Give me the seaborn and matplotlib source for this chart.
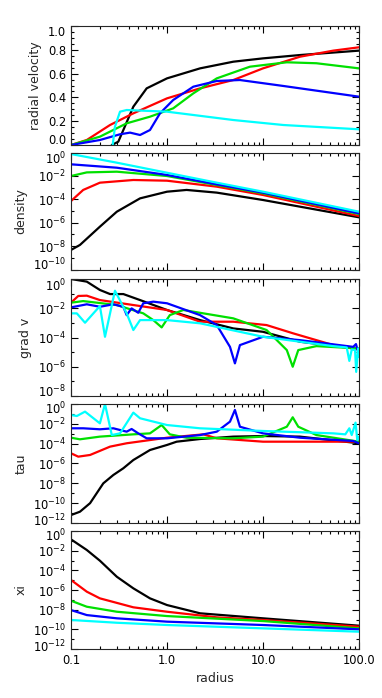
import numpy as np
import matplotlib
matplotlib.use("Agg")
import matplotlib.pyplot as plt
from matplotlib.ticker import MultipleLocator, NullFormatter
from matplotlib.transforms import ScaledTranslation
import seaborn as sns

# ---- radial velocity (linear) ----
vel_black_r = [0.266, 0.311, 0.351, 0.446, 0.614, 1.0, 2.21, 4.9, 10, 24.3, 100]
vel_black = [0.0, 0.028, 0.126, 0.322, 0.476, 0.56, 0.644, 0.70, 0.728, 0.756, 0.793]
vel_red_r = [0.1, 0.146, 0.255, 0.446, 1.0, 2.21, 4.9, 10, 24.3, 54, 100]
vel_red = [0.0, 0.042, 0.168, 0.266, 0.392, 0.476, 0.546, 0.644, 0.742, 0.793, 0.821]
vel_green_r = [0.1, 0.2, 0.38, 0.665, 1.16, 1.88, 3.3, 7.3, 17.7, 36, 100]
vel_green = [0.0, 0.07, 0.182, 0.238, 0.308, 0.434, 0.56, 0.658, 0.695, 0.687, 0.644]
vel_blue_r = [0.1, 0.2, 0.324, 0.412, 0.524, 0.665, 0.845, 1.16, 1.88, 3.3, 5.75, 16.3, 100]
vel_blue = [0.0, 0.042, 0.09, 0.104, 0.084, 0.126, 0.266, 0.378, 0.49, 0.538, 0.546, 0.496, 0.406]
vel_cyan_r = [0.1, 0.27, 0.287, 0.324, 0.38, 1.0, 4.9, 16.3, 100]
vel_cyan = [-0.02, -0.02, 0.154, 0.28, 0.294, 0.28, 0.21, 0.168, 0.132]

# ---- density (log10 values) ----
dens_black_r = [0.1, 0.124, 0.2, 0.3, 0.524, 1.0, 1.6, 3.3, 10, 100]
dens_black = [-8.33, -7.9, -6.34, -5.06, -3.92, -3.35, -3.2, -3.43, -4.06, -5.54]
dens_red_r = [0.1, 0.134, 0.2, 0.446, 1.0, 3.3, 10, 100]
dens_red = [-4.15, -3.2, -2.58, -2.35, -2.41, -2.92, -3.63, -5.43]
dens_green_r = [0.1, 0.146, 0.3, 1.0, 3.3, 10, 100]
dens_green = [-2.01, -1.70, -1.64, -2.01, -2.78, -3.49, -5.26]
dens_blue_r = [0.1, 0.3, 1.0, 3.3, 10, 100]
dens_blue = [-1.01, -1.3, -1.92, -2.72, -3.43, -5.2]
dens_cyan_r = [0.1, 0.3, 1.0, 3.3, 10, 100]
dens_cyan = [-0.13, -0.87, -1.73, -2.58, -3.35, -5.06]

# ---- grad v (log10 values) ----
grad_black_r = [0.1, 0.146, 0.2, 0.255, 0.351, 0.524, 1.0, 2.21, 4.9, 10, 24.3, 100]
grad_black = [0.0, -0.18, -0.75, -1.03, -1.03, -1.44, -2.12, -2.81, -3.38, -3.61, -4.29, -4.79]
grad_red_r = [0.1, 0.119, 0.146, 0.2, 0.446, 1.0, 2.21, 4.9, 10.9, 20.7, 54, 100]
grad_red = [-1.62, -1.16, -1.14, -1.44, -1.78, -2.12, -2.92, -2.92, -3.15, -3.72, -4.52, -4.82]
grad_green_r = [0.1, 0.134, 0.3, 0.566, 0.72, 0.88, 1.07, 1.48, 4.9, 10.9, 17.7, 20.4, 23.3, 36, 100]
grad_green = [-1.62, -1.51, -1.78, -2.35, -2.81, -3.31, -2.47, -2.12, -2.69, -3.49, -4.86, -6.0,
              -4.86, -4.59, -4.75]
grad_blue_r = [0.1, 0.146, 0.2, 0.276, 0.351, 0.38, 0.428, 0.502, 0.566, 0.72, 1.0, 2.21, 3.3,
               4.53, 5.1, 5.75, 10, 24.3, 87, 93, 100]
grad_blue = [-1.94, -1.73, -1.9, -1.73, -1.9, -2.47, -2.01, -2.31, -1.66, -1.55, -1.66, -2.47,
             -3.15, -4.64, -5.77, -4.52, -3.95, -4.18, -4.64, -4.45, -5.2]
grad_cyan_r = [0.1, 0.115, 0.14, 0.2, 0.226, 0.287, 0.38, 0.446, 0.524, 1.0, 2.21, 10, 54, 74.5,
               79.3, 84, 91, 93.5, 98, 100]
grad_cyan = [-2.35, -2.35, -2.99, -1.85, -3.95, -0.8, -2.35, -3.49, -2.81, -2.81, -3.03, -3.95,
             -4.59, -4.68, -5.6, -4.82, -4.86, -6.35, -4.75, -5.32]

# ---- tau (log10 values) ----
tau_black_r = [0.1, 0.124, 0.158, 0.217, 0.276, 0.351, 0.446, 0.665, 1.0, 1.26, 2.21, 4.9, 10,
               24.3, 100]
tau_black = [-11.2, -10.86, -10.0, -8.0, -7.16, -6.48, -5.65, -4.64, -4.13, -3.8, -3.53, -3.29,
             -3.23, -3.29, -3.96]
tau_red_r = [0.1, 0.119, 0.158, 0.255, 0.38, 1.0, 2.39, 3.3, 10, 36, 100]
tau_red = [-4.97, -5.31, -5.14, -4.3, -3.96, -3.4, -3.06, -3.46, -3.8, -3.8, -3.8]
tau_green_r = [0.1, 0.124, 0.2, 0.446, 0.665, 0.88, 1.07, 1.6, 4.9, 10, 17.7, 20.4, 23.3, 36, 100]
tau_green = [-3.4, -3.56, -3.29, -3.06, -2.96, -2.12, -3.06, -3.4, -3.46, -3.29, -2.29, -1.34,
             -2.29, -3.13, -3.8]
tau_blue_r = [0.1, 0.134, 0.2, 0.276, 0.38, 0.428, 0.502, 0.614, 1.0, 2.21, 3.3, 4.53, 5.1, 5.75,
              10, 24.3, 87, 100]
tau_blue = [-2.45, -2.45, -2.55, -2.45, -2.79, -2.52, -2.96, -3.46, -3.46, -3.13, -2.79, -1.78,
            -0.6, -2.29, -2.96, -3.4, -3.73, -3.96]
tau_cyan_r = [0.1, 0.115, 0.14, 0.2, 0.226, 0.266, 0.324, 0.446, 0.524, 1.0, 2.21, 10, 54, 72,
              79.3, 84, 92, 96, 100]
tau_cyan = [-1.11, -1.21, -0.77, -1.95, 0.0, -3.13, -2.96, -0.87, -1.44, -2.12, -2.45, -2.72,
            -2.96, -3.06, -2.45, -3.13, -1.88, -3.63, -3.29]

# ---- xi (log10 values) ----
xi_black_r = [0.1, 0.146, 0.2, 0.3, 0.446, 0.665, 1.0, 2.21, 10, 100]
xi_black = [-0.85, -1.93, -3.02, -4.65, -5.83, -6.85, -7.53, -8.37, -8.88, -9.63]
xi_red_r = [0.1, 0.146, 0.2, 0.446, 1.0, 3.3, 10, 100]
xi_red = [-4.98, -6.17, -6.85, -7.76, -8.21, -8.78, -9.05, -9.73]
xi_green_r = [0.1, 0.146, 0.3, 1.0, 10, 100]
xi_green = [-7.09, -7.7, -8.21, -8.65, -9.16, -9.9]
xi_blue_r = [0.1, 0.146, 0.3, 1.0, 10, 100]
xi_blue = [-8.04, -8.55, -8.88, -9.22, -9.56, -10.0]
xi_cyan_r = [0.1, 0.3, 1.0, 10, 100]
xi_cyan = [-9.05, -9.33, -9.56, -9.9, -10.24]

COLORS = ["black", "#ff0000", "#00e000", "#0000ff", "#00ffff"]

panels = [
    ("radial velocity", False, (0.0, 1.0),
     [(vel_black_r, vel_black), (vel_red_r, vel_red), (vel_green_r, vel_green),
      (vel_blue_r, vel_blue), (vel_cyan_r, vel_cyan)]),
    ("density", True, (-10, 0),
     [(dens_black_r, dens_black), (dens_red_r, dens_red), (dens_green_r, dens_green),
      (dens_blue_r, dens_blue), (dens_cyan_r, dens_cyan)]),
    ("grad v", True, (-8, 0),
     [(grad_black_r, grad_black), (grad_red_r, grad_red), (grad_green_r, grad_green),
      (grad_blue_r, grad_blue), (grad_cyan_r, grad_cyan)]),
    ("tau", True, (-12, 0),
     [(tau_black_r, tau_black), (tau_red_r, tau_red), (tau_green_r, tau_green),
      (tau_blue_r, tau_blue), (tau_cyan_r, tau_cyan)]),
    ("xi", True, (-12, 0),
     [(xi_black_r, xi_black), (xi_red_r, xi_red), (xi_green_r, xi_green),
      (xi_blue_r, xi_blue), (xi_cyan_r, xi_cyan)]),
]

# panel boxes in pixels: (top, bottom)
boxes = [(26, 145), (152.5, 269.5), (279, 396), (404, 523), (531, 649)]
W, H = 382, 698
LEFT, RIGHT = 71, 359

sns.set_style("ticks")
plt.rcParams["font.family"] = ["DejaVu Sans"]
plt.rcParams["axes.linewidth"] = 0.8

fig = plt.figure(figsize=(W / 100, H / 100), dpi=100)

for i, ((label, is_log, yr, series), (top, bot)) in enumerate(zip(panels, boxes)):
    ax = fig.add_axes([LEFT / W, 1 - bot / H, (RIGHT - LEFT) / W, (bot - top) / H])
    ax.set_xscale("log")
    if is_log:
        ax.set_yscale("log")
    for (r, v), c in zip(series, COLORS):
        y = 10 ** np.array(v) if is_log else np.array(v)
        sns.lineplot(x=r, y=y, ax=ax, color=c, lw=1.6, estimator=None, sort=False)
    ax.set_xlim(0.1, 100)
    crowded = False
    if is_log:
        lo, hi = yr
        crowded = (hi - lo) >= 12
        ax.set_ylim(10.0 ** lo, 10.0 ** hi)
        majors = list(range(lo, hi + 1, 2))
        ax.set_yticks([10.0 ** m for m in majors])
        ax.set_yticklabels([f"$10^{{{m}}}$" for m in majors])
        ax.set_yticks([10.0 ** m for m in range(lo + 1, hi, 2)], minor=True)
    else:
        ax.set_ylim(*yr)
        ticks = [0.0, 0.2, 0.4, 0.6, 0.8, 1.0]
        ax.set_yticks(ticks)
        ax.set_yticklabels([f"{t:.1f}" for t in ticks])
        ax.yaxis.set_minor_locator(MultipleLocator(0.05))
    ax.yaxis.set_minor_formatter(NullFormatter())
    ax.xaxis.set_minor_formatter(NullFormatter())

    ax.set_xticks([0.1, 1, 10, 100])
    if i == len(panels) - 1:
        ax.set_xticklabels(["0.1", "1.0", "10.0", "100.0"])
        ax.set_xlabel("radius", fontsize=9)
    else:
        ax.set_xticklabels([])
        ax.set_xlabel("")
    ax.set_ylabel(label, fontsize=9)
    ax.tick_params(which="both", direction="in", top=True, right=True,
                   labelsize=8.3, width=0.8, colors="black")
    ax.tick_params(which="major", length=5)
    ax.tick_params(which="minor", length=2.5)

    # nudge the end labels inward, like the reference
    ylabels = ax.get_yticklabels()
    up = ScaledTranslation(0, 0.035 if crowded else 0.06, fig.dpi_scale_trans)
    down = ScaledTranslation(0, -0.035 if crowded else -0.05, fig.dpi_scale_trans)
    ylabels[0].set_transform(ylabels[0].get_transform() + up)
    ylabels[-1].set_transform(ylabels[-1].get_transform() + down)

fig.savefig("out.png", dpi=100)
